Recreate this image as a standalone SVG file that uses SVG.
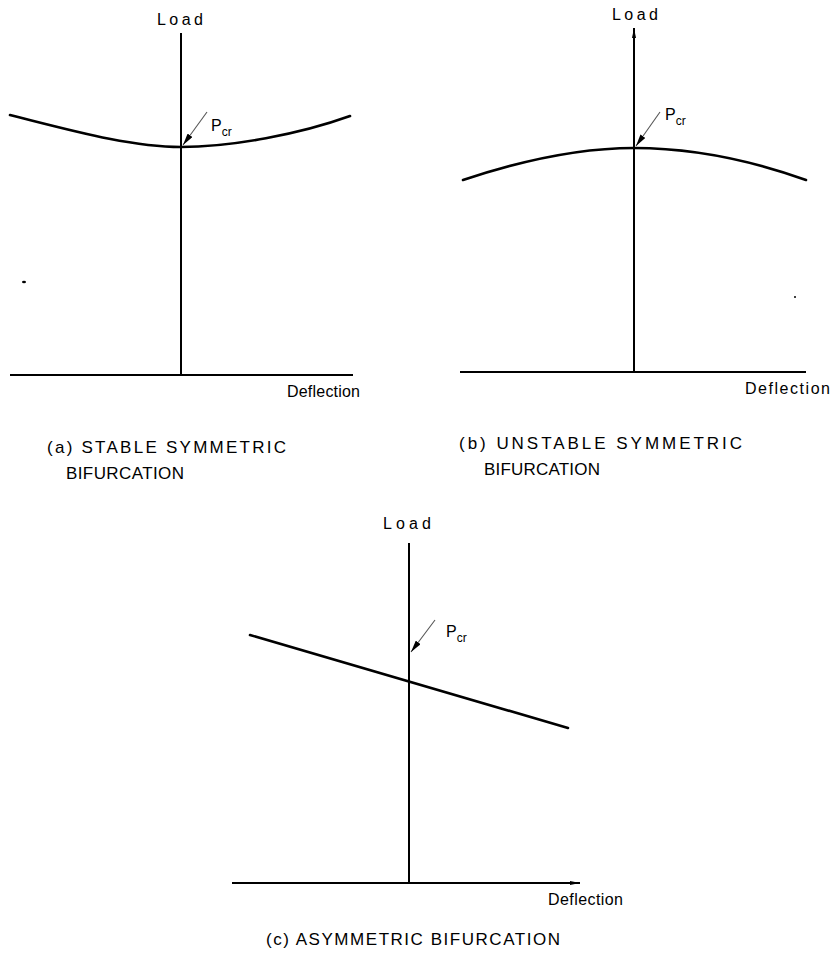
<svg xmlns="http://www.w3.org/2000/svg" width="832" height="973" viewBox="0 0 832 973">
<style>
.ax{stroke:#000;stroke-width:2;fill:none}
.cv{stroke:#000;stroke-width:2.6;fill:none;stroke-linecap:round}
.ld{stroke:#555;stroke-width:1.1;fill:none}
.t{font-family:"Liberation Sans",Arial,sans-serif;fill:#000}
.lbl{font-size:16px}
.cap{font-size:17px}
.sub{font-size:12px}
</style>
<defs>
<marker id="ah" viewBox="0 0 12 6" refX="12" refY="3" markerWidth="12" markerHeight="6" markerUnits="userSpaceOnUse" orient="auto">
<path d="M0,0 L12,3 L0,6 z" fill="#000"/>
</marker>
<marker id="sa" viewBox="0 0 10 4" refX="10" refY="2" markerWidth="10" markerHeight="4" markerUnits="userSpaceOnUse" orient="auto">
<path d="M0,0 L10,2 L0,4 z" fill="#000"/>
</marker>
</defs>
<rect width="832" height="973" fill="#fff"/>
<g id="connectors">
<!-- (a) -->
<line class="ax" x1="181" y1="33" x2="181" y2="375"/>
<line class="ax" x1="10" y1="375" x2="353" y2="375"/>
<path class="cv" d="M10,115 C70,130 130,147 181,147 C232,147 300,134 350,116"/>
<line class="ld" x1="207" y1="112" x2="183" y2="145" marker-end="url(#ah)"/>
<!-- (b) -->
<line class="ax" x1="634" y1="372" x2="634" y2="28" marker-end="url(#sa)"/>
<line class="ax" x1="460" y1="372" x2="806" y2="372"/>
<path class="cv" d="M463,180 C520,161 580,148 634,148 C690,148 750,160 806,180"/>
<line class="ld" x1="660" y1="112" x2="636" y2="146" marker-end="url(#ah)"/>
<!-- (c) -->
<line class="ax" x1="409" y1="883" x2="409" y2="543"/>
<line class="ax" x1="232" y1="883" x2="580" y2="883" marker-end="url(#sa)"/>
<line class="cv" x1="250" y1="635" x2="568" y2="728"/>
<line class="ld" x1="435" y1="620" x2="411" y2="652" marker-end="url(#ah)"/>
</g>
<g id="specks">
<ellipse cx="24" cy="282" rx="2" ry="1.2" fill="#000"/>
<ellipse cx="795" cy="297" rx="1" ry="1" fill="#000"/>
</g>
<g id="panel-a">
<text class="t lbl" x="157" y="25" textLength="46" lengthAdjust="spacing">Load</text>
<text class="t lbl" x="211" y="131">P<tspan class="sub" dy="5">cr</tspan></text>
<text class="t lbl" x="287" y="397" textLength="73" lengthAdjust="spacing">Deflection</text>
<text class="t cap" x="47" y="453" textLength="239" lengthAdjust="spacing">(a) STABLE SYMMETRIC</text>
<text class="t cap" x="66" y="479" textLength="118" lengthAdjust="spacing">BIFURCATION</text>
</g>
<g id="panel-b">
<text class="t lbl" x="612" y="20" textLength="46" lengthAdjust="spacing">Load</text>
<text class="t lbl" x="665" y="120">P<tspan class="sub" dy="5">cr</tspan></text>
<text class="t lbl" x="745" y="394" textLength="85" lengthAdjust="spacing">Deflection</text>
<text class="t cap" x="459" y="449" textLength="283" lengthAdjust="spacing">(b) UNSTABLE SYMMETRIC</text>
<text class="t cap" x="484" y="475" textLength="116" lengthAdjust="spacing">BIFURCATION</text>
</g>
<g id="panel-c">
<text class="t lbl" x="383" y="529" textLength="48" lengthAdjust="spacing">Load</text>
<text class="t lbl" x="446" y="637">P<tspan class="sub" dy="5">cr</tspan></text>
<text class="t lbl" x="548" y="905" textLength="75" lengthAdjust="spacing">Deflection</text>
<text class="t cap" x="266" y="945" textLength="294" lengthAdjust="spacing">(c) ASYMMETRIC BIFURCATION</text>
</g>
</svg>
